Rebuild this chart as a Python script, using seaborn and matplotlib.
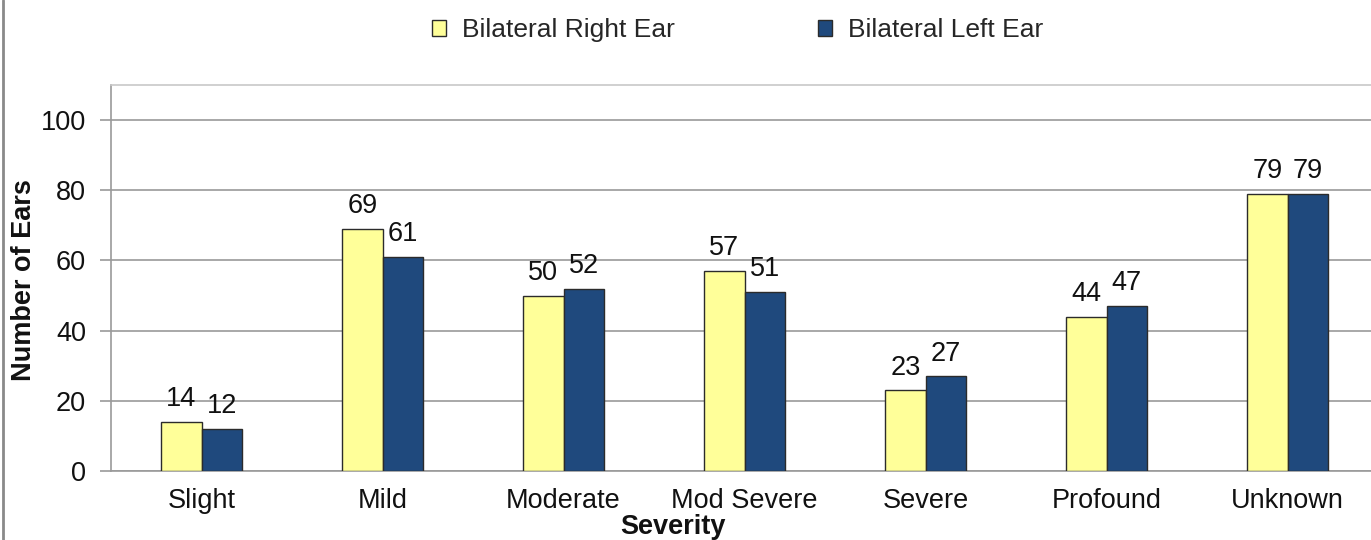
import matplotlib
matplotlib.use("Agg")
import matplotlib.pyplot as plt
import seaborn as sns
import pandas as pd
from matplotlib.lines import Line2D

categories = ["Slight", "Mild", "Moderate", "Mod Severe", "Severe", "Profound", "Unknown"]
right_ear = [14, 69, 50, 57, 23, 44, 79]
left_ear = [12, 61, 52, 51, 27, 47, 79]
series_names = ["Bilateral Right Ear", "Bilateral Left Ear"]
y_ticks = [0, 20, 40, 60, 80, 100]

df = pd.DataFrame({
    "Severity": categories * 2,
    "Series": [series_names[0]] * len(categories) + [series_names[1]] * len(categories),
    "Value": right_ear + left_ear,
})

sns.set_theme(style="white")
plt.rcParams["font.family"] = ["Liberation Sans", "DejaVu Sans"]

FS = 19.5
fig = plt.figure(figsize=(13.71, 5.40), dpi=100)
ax = fig.add_axes([111 / 1371, 69 / 540, 1267 / 1371, 386 / 540])

palette = {series_names[0]: "#FFFF99", series_names[1]: "#1F497D"}
sns.barplot(data=df, x="Severity", y="Value", hue="Series", order=categories,
            hue_order=series_names, palette=palette, width=0.445, dodge=True,
            edgecolor="#2b2b2b", linewidth=1.0, saturation=1, ax=ax, zorder=3)

for c in ax.containers:
    ax.bar_label(c, fmt="%d", padding=7, fontsize=FS, color="#111111")

ax.set_xlim(-0.5, 6.5)
ax.set_ylim(0, 110)
ax.set_yticks(y_ticks)
ax.yaxis.grid(True, color="#9a9a9a", linewidth=1.2, zorder=0)
ax.set_axisbelow(True)

for s in ["left", "bottom", "top"]:
    ax.spines[s].set_visible(True)
    ax.spines[s].set_color("#9a9a9a")
    ax.spines[s].set_linewidth(1.2)
ax.spines["top"].set_color("#c8c8c8")
ax.spines["right"].set_visible(False)

ax.tick_params(axis="y", which="both", left=True, length=8, width=1.2, color="#9a9a9a",
               labelsize=FS, pad=10, labelcolor="#111111")
ax.tick_params(axis="x", bottom=False, labelsize=FS, pad=6, labelcolor="#111111")

ax.set_xlabel("Severity", fontsize=FS, fontweight="bold", color="#111111")
ax.set_ylabel("Number of Ears", fontsize=FS, fontweight="bold", color="#111111")
ax.xaxis.set_label_coords((673 - 111) / 1267, -(527 - 471) / 386)
ax.xaxis.label.set_verticalalignment("center")
ax.yaxis.set_label_coords((24 - 111) / 1267, (471 - 280) / 386)
ax.yaxis.label.set_verticalalignment("center")

leg = ax.legend(loc="upper center", bbox_to_anchor=((737.5 - 111) / 1267, 1.20), ncol=2,
                frameon=False, fontsize=19, handlelength=0.55, handleheight=0.55,
                handletextpad=0.6, columnspacing=5.4, borderaxespad=0)
for h in leg.legend_handles:
    h.set_edgecolor("#2b2b2b")
    h.set_linewidth(1.0)

fig.add_artist(Line2D([3 / 1371, 3 / 1371], [0, 1], color="#8a8a8a", linewidth=2,
                      transform=fig.transFigure))

fig.savefig("out.png", dpi=100)
